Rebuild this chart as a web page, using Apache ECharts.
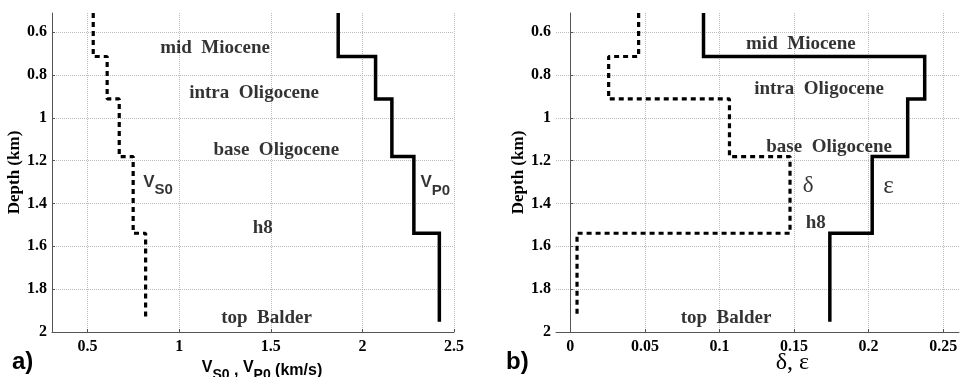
<!DOCTYPE html>
<html><head><meta charset="utf-8">
<script src="https://cdn.jsdelivr.net/npm/echarts@6/dist/echarts.min.js"></script>
<style>html,body{margin:0;padding:0;background:#fff}#c{width:972px;height:377px}</style>
</head><body><div id="c"></div>
<script>
// Layer top depths (km) for the five layers
const layerTops = [0.511, 0.714, 0.912, 1.181, 1.539];
// Bottom end of each profile (km)
const vsBottom = 1.944;
const vpBottom = 1.952;
const deltaBottom = 1.929;
const epsBottom = 1.952;
// Panel a) velocities (km/s)
const vs0 = [0.531, 0.607, 0.673, 0.749, 0.817];
const vp0 = [1.868, 2.072, 2.161, 2.281, 2.420];
// Panel b) anisotropy parameters
const delta = [0.0458, 0.0257, 0.1067, 0.1473, 0.0045];
const epsilon = [0.0893, 0.2376, 0.2262, 0.2024, 0.174];
// Tick labels
const depthTicks = [0.6, 0.8, 1, 1.2, 1.4, 1.6, 1.8, 2];
const velTicks = [0.5, 1, 1.5, 2, 2.5];
const anisoTicks = [0, 0.05, 0.1, 0.15, 0.2, 0.25];
// Horizon annotations
const horizonNames = ['mid  Miocene', 'intra  Oligocene', 'base  Oligocene', 'h8', 'top  Balder'];
const horizonPosA = [[1.196, 0.675], [1.409, 0.885], [1.530, 1.153], [1.456, 1.516], [1.477, 1.934]];
const horizonPosB = [[0.1546, 0.655], [0.1668, 0.866], [0.1735, 1.135], [0.1645, 1.493], [0.1044, 1.934]];

function staircase(values, bottom) {
  const pts = [];
  for (let i = 0; i < values.length; i++) {
    const top = layerTops[i];
    const bot = i + 1 < layerTops.length ? layerTops[i + 1] : bottom;
    pts.push([values[i], top]);
    pts.push([values[i], bot]);
  }
  return pts;
}

const SERIF = '"Liberation Serif", "Times New Roman", serif';
const SANS = '"Liberation Sans", Arial, sans-serif';
const axisCol = '#555';

function yAxisDef(gi) {
  return {
    type: 'value', gridIndex: gi, inverse: true, min: 0.511, max: 2,
    name: 'Depth (km)', nameLocation: 'middle', nameRotate: 90, nameGap: 27,
    nameTextStyle: { fontFamily: SERIF, fontWeight: 'bold', fontSize: 17, color: '#000' },
    axisLine: { show: true, lineStyle: { color: axisCol, width: 1 } },
    axisTick: { show: true, inside: true, length: 3, customValues: depthTicks, lineStyle: { color: axisCol } },
    axisLabel: { customValues: depthTicks, margin: 5, fontFamily: SERIF, fontWeight: 'bold', fontSize: 16, color: '#000' },
    splitLine: { show: true, lineStyle: { type: 'dotted', color: '#bbb', width: 1 } }
  };
}
function xAxisDef(gi, min, max, ticks, name, nameStyle, padding, gap) {
  return {
    type: 'value', gridIndex: gi, min: min, max: max,
    name: name, nameLocation: 'middle', nameGap: gap, nameMoveOverlap: false,
    nameTextStyle: Object.assign({ padding: padding }, nameStyle),
    axisLine: { show: true, onZero: false, lineStyle: { color: axisCol, width: 1 } },
    axisTick: { show: true, inside: true, length: 3, customValues: ticks, lineStyle: { color: axisCol } },
    axisLabel: { customValues: ticks, margin: 7, fontFamily: SERIF, fontWeight: 'bold', fontSize: 16, color: '#000' },
    splitLine: { show: true, lineStyle: { type: 'dotted', color: '#bbb', width: 1 } }
  };
}

function lineSeries(gi, data, dashed) {
  return {
    type: 'line', xAxisIndex: gi, yAxisIndex: gi, data: data,
    showSymbol: false, symbol: 'none', animation: false, silent: true,
    lineStyle: dashed ? { color: '#000', width: 3.2, type: [5, 4], cap: 'butt' }
                      : { color: '#000', width: 3.5, join: 'miter' }
  };
}

function annotSeries(gi, names, pos, extra) {
  const data = names.map((n, i) => ({ value: pos[i], label: { formatter: n } }));
  (extra || []).forEach(e => data.push(e));
  return {
    type: 'scatter', xAxisIndex: gi, yAxisIndex: gi, symbolSize: 1, animation: false, silent: true,
    itemStyle: { color: 'rgba(0,0,0,0)' },
    label: { show: true, position: 'inside', color: '#000', fontFamily: SERIF, fontWeight: 'bold', fontSize: 19 },
    data: data
  };
}

const subRich = {
  v: { fontFamily: SANS, fontSize: 17, color: '#000', verticalAlign: 'top', lineHeight: 24 },
  s: { fontFamily: SANS, fontWeight: 'bold', fontSize: 15, color: '#000', verticalAlign: 'bottom', lineHeight: 24 }
};

const option = {
  backgroundColor: '#fff',
  animation: false,
  grid: [
    { left: 52, top: 13, width: 402, height: 319, outerBoundsMode: 'none', containLabel: false },
    { left: 556, top: 13, width: 403, height: 319, outerBoundsMode: 'none', containLabel: false }
  ],
  xAxis: [
    xAxisDef(0, 0.306, 2.5, velTicks, '{v|V}{s|S0}{c| , }{v|V}{s|P0}{c| (km/s)}',
      { rich: {
        v: { fontFamily: SANS, fontWeight: 'bold', fontSize: 16, color: '#000', verticalAlign: 'top', lineHeight: 22 },
        s: { fontFamily: SANS, fontWeight: 'bold', fontSize: 14, color: '#000', verticalAlign: 'bottom', lineHeight: 22 },
        c: { fontFamily: SANS, fontWeight: 'bold', fontSize: 16, color: '#000', lineHeight: 22 }
      } }, [0, 0, 0, 18], 28),
    xAxisDef(1, -0.0096, 0.2606, anisoTicks, 'δ, ε',
      { fontFamily: SERIF, fontSize: 24, color: '#000' }, [0, 0, 0, 70], 19)
  ],
  yAxis: [yAxisDef(0), yAxisDef(1)],
  series: [
    lineSeries(0, staircase(vs0, vsBottom), true),
    lineSeries(0, staircase(vp0, vpBottom), false),
    lineSeries(1, staircase(delta, deltaBottom), true),
    lineSeries(1, staircase(epsilon, epsBottom), false),
    annotSeries(0, horizonNames, horizonPosA, [
      { value: [0.885, 1.317], label: { formatter: '{v|V}{s|S0}', rich: subRich } },
      { value: [2.398, 1.319], label: { formatter: '{v|V}{s|P0}', rich: subRich } }
    ]),
    annotSeries(1, horizonNames, horizonPosB, [
      { value: [0.1594, 1.320], label: { formatter: 'δ', fontWeight: 'normal', fontSize: 23 } },
      { value: [0.2134, 1.322], label: { formatter: 'ε', fontWeight: 'normal', fontSize: 25 } }
    ])
  ],
  graphic: [
    { type: 'text', left: 12, top: 350, style: { text: 'a)', font: 'bold 24px "Liberation Sans", Arial, sans-serif', fill: '#000' } },
    { type: 'text', left: 506, top: 350, style: { text: 'b)', font: 'bold 24px "Liberation Sans", Arial, sans-serif', fill: '#000' } }
  ]
};

const chart = echarts.init(document.getElementById('c'), null, { renderer: 'canvas' });
chart.setOption(option);
</script>
</body></html>
